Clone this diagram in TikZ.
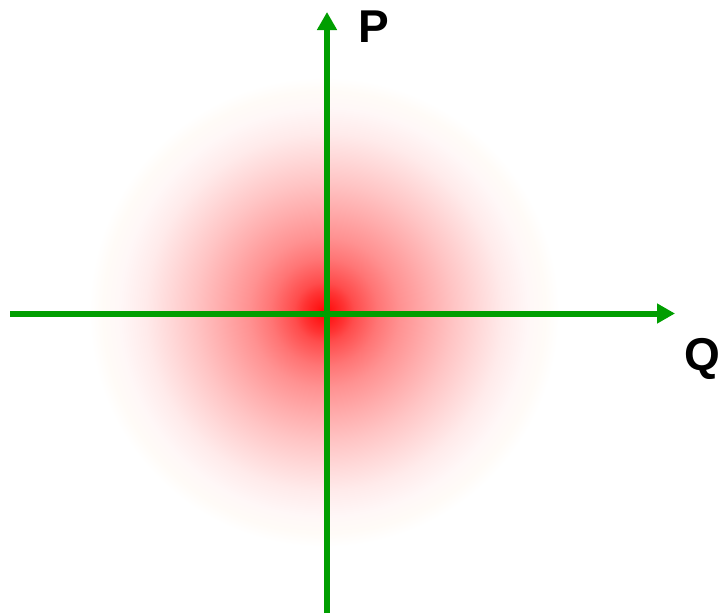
\documentclass[tikz,border=0pt]{standalone}
\usepackage{fontspec}
\setmainfont{Liberation Sans}
\usetikzlibrary{arrows.meta}
\definecolor{axisgreen}{RGB}{0,158,0}
\definecolor{cream}{RGB}{255,251,247}
\pgfdeclareradialshading{glow}{\pgfpoint{0bp}{0bp}}{%
  color(0bp)=(red);
  color(0.7bp)=(red!92);
  color(2.2bp)=(red!80);
  color(3.2bp)=(red!70);
  color(5.7bp)=(red!54);
  color(8bp)=(red!43);
  color(11.1bp)=(red!32);
  color(13.8bp)=(red!23);
  color(16.5bp)=(red!15);
  color(19bp)=(red!8);
  color(21.8bp)=(red!3);
  color(23.5bp)=(cream);
  color(25bp)=(white);
  color(50bp)=(white)}
\tikzset{
  axis/.style={draw=axisgreen, line width=6pt, -{Triangle[length=18pt,width=19pt]}},
  axlabel/.style={font=\fontsize{46}{46}\selectfont\bfseries, inner sep=0pt}
}
\begin{document}
\begin{tikzpicture}[x=1pt,y=-1pt]
\useasboundingbox (0,0) rectangle (720,613);
\fill[white] (0,0) rectangle (720,613);
\shade[shading=glow] (324,312) circle (235);
\coordinate (xs) at (10,313.5);
\coordinate (xe) at (675,313.5);
\coordinate (ys) at (327,613);
\coordinate (ye) at (327,12);
\draw[axis] (xs) -- (xe);
\draw[axis] (ys) -- (ye);
\node[axlabel, anchor=base west] (P) at (358,42) {P};
\node[axlabel, anchor=base west] (Q) at (684,370) {Q};
\end{tikzpicture}
\end{document}
